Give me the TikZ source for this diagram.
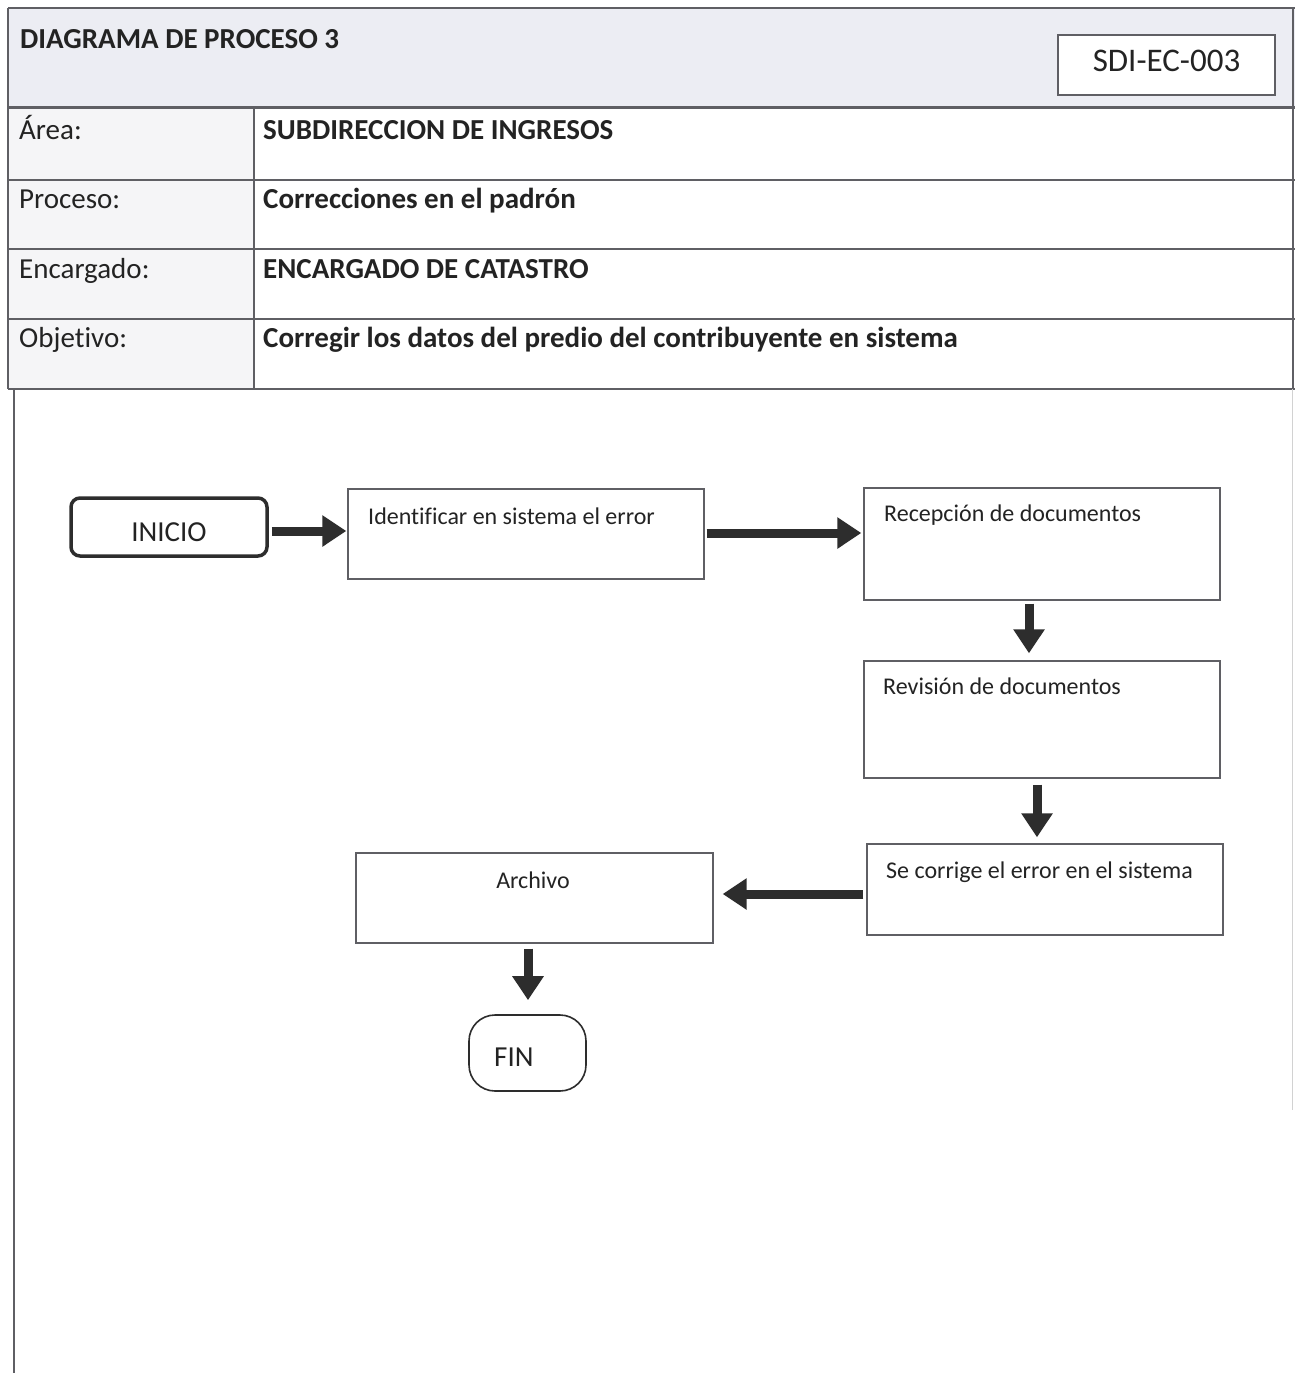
\documentclass[tikz,border=0pt]{standalone}
\usepackage{fontspec}
\setmainfont[Ligatures={NoCommon,NoContextual}]{Carlito}
\usetikzlibrary{arrows.meta,calc}
\definecolor{hdrfill}{RGB}{236,237,243}
\definecolor{lblfill}{RGB}{245,245,247}
\definecolor{rulec}{RGB}{95,95,100}
\definecolor{ink}{RGB}{35,35,35}
\definecolor{arrowc}{RGB}{45,45,45}
\begin{document}
\begin{tikzpicture}[x=1pt,y=-1pt,
  tbl/.style={draw=rulec,line width=2pt},
  cell/.style={anchor=base west,inner sep=0pt,text=ink,font=\fontsize{29}{34}\selectfont},
  cellb/.style={cell,font=\fontsize{29}{34}\selectfont\bfseries},
  procbox/.style={draw=rulec,line width=1.4pt,fill=white,inner sep=0pt},
  boxtext/.style={anchor=base west,inner sep=0pt,text=ink,font=\fontsize{24}{28}\selectfont},
  bigarrow/.style={draw=arrowc,line width=9pt,-{Triangle[length=24pt,width=30pt]}}]
% page
\fill[white] (0,0) rectangle (1297,1373);
\useasboundingbox (0,0) rectangle (1297,1373);
% header table
\fill[hdrfill] (8,8) rectangle (1295,107);
\fill[lblfill] (8,107) rectangle (254,389);
\draw[tbl] (8,8) -- (1295,8);
\draw[draw=rulec,line width=3pt] (8,107) -- (1295,107);
\draw[tbl] (8,180) -- (1295,180);
\draw[tbl] (8,249) -- (1295,249);
\draw[tbl] (8,319) -- (1295,319);
\draw[draw=rulec,line width=2.5pt] (8,389) -- (1295,389);
\draw[tbl] (8,8) -- (8,389);
\draw[draw=rulec,line width=2.5pt] (254,107) -- (254,389);
\draw[tbl] (1293,8) -- (1293,389);
% body borders
\draw[draw=rulec,line width=1.5pt] (14,389) -- (14,1373);
\draw[draw=gray!35,line width=1pt] (1292,389) -- (1292,1110);
% header texts
\node[cellb] (title) at (20,48) {DIAGRAMA DE PROCESO 3};
\node[draw=rulec,line width=2pt,fill=white,minimum width=217pt,minimum height=60pt,inner sep=0pt] (code) at (1166.5,65) {};
\node[anchor=base,inner sep=0pt,text=ink,font=\fontsize{33}{38}\selectfont] (codet) at (1166.5,71) {SDI-EC-003};
\node[cell] (l1) at (19,139) {Área:};
\node[cellb] (v1) at (263,139) {SUBDIRECCION DE INGRESOS};
\node[cell] (l2) at (19,208) {Proceso:};
\node[cellb] (v2) at (263,208) {Correcciones en el padrón};
\node[cell] (l3) at (19,278) {Encargado:};
\node[cellb] (v3) at (263,278) {ENCARGADO DE CATASTRO};
\node[cell] (l4) at (19,347) {Objetivo:};
\node[cellb] (v4) at (263,347) {Corregir los datos del predio del contribuyente en sistema};
% flowchart
\node[draw=arrowc,line width=3.5pt,rounded corners=9pt,fill=white,minimum width=196pt,minimum height=58pt,inner sep=0pt] (inicio) at (169,527) {};
\node[anchor=base,inner sep=0pt,text=ink,font=\fontsize{29}{34}\selectfont] (tinicio) at (169,541) {INICIO};
\node[procbox,minimum width=356pt,minimum height=90pt] (b1) at (526,534) {};
\node[boxtext] (t1) at (368,524) {Identificar en sistema el error};
\node[procbox,minimum width=356pt,minimum height=112pt] (b2) at (1042,544) {};
\node[boxtext] (t2) at (884,521) {Recepción de documentos};
\node[procbox,minimum width=356pt,minimum height=117pt] (b3) at (1042,719.5) {};
\node[boxtext] (t3) at (883,694) {Revisión de documentos};
\node[procbox,minimum width=356pt,minimum height=91pt] (b4) at (1045,889.5) {};
\node[boxtext] (t4) at (886,878) {Se corrige el error en el sistema};
\node[procbox,minimum width=357pt,minimum height=90pt] (b5) at (534.5,898) {};
\node[anchor=base,inner sep=0pt,text=ink,font=\fontsize{24}{28}\selectfont] (t5) at (533,888) {Archivo};
\node[draw=arrowc,line width=1.6pt,rounded corners=26pt,fill=white,minimum width=117pt,minimum height=76pt,inner sep=0pt] (fin) at (527.5,1053) {};
\node[anchor=base west,inner sep=0pt,text=ink,font=\fontsize{29}{34}\selectfont] (tfin) at (494,1066) {FIN};
% connectors
\draw[bigarrow] ($(inicio.east)+(3,4)$) -- ($(b1.west)+(-1,-3)$);
\draw[bigarrow] ($(b1.east)+(2,-1)$) -- ($(b2.west)+(-2,-11)$);
\draw[bigarrow] ($(b2.south)+(-13,3)$) -- ($(b3.north)+(-13,-7)$);
\draw[bigarrow] ($(b3.south)+(-5,6)$) -- ($(b4.north)+(-8,-6)$);
\draw[bigarrow] ($(b4.west)+(-3,4.5)$) -- ($(b5.east)+(9,-4)$);
\draw[bigarrow] ($(b5.south)+(-6.5,5)$) -- ($(fin.north)+(0.5,-14)$);
\end{tikzpicture}
\end{document}
